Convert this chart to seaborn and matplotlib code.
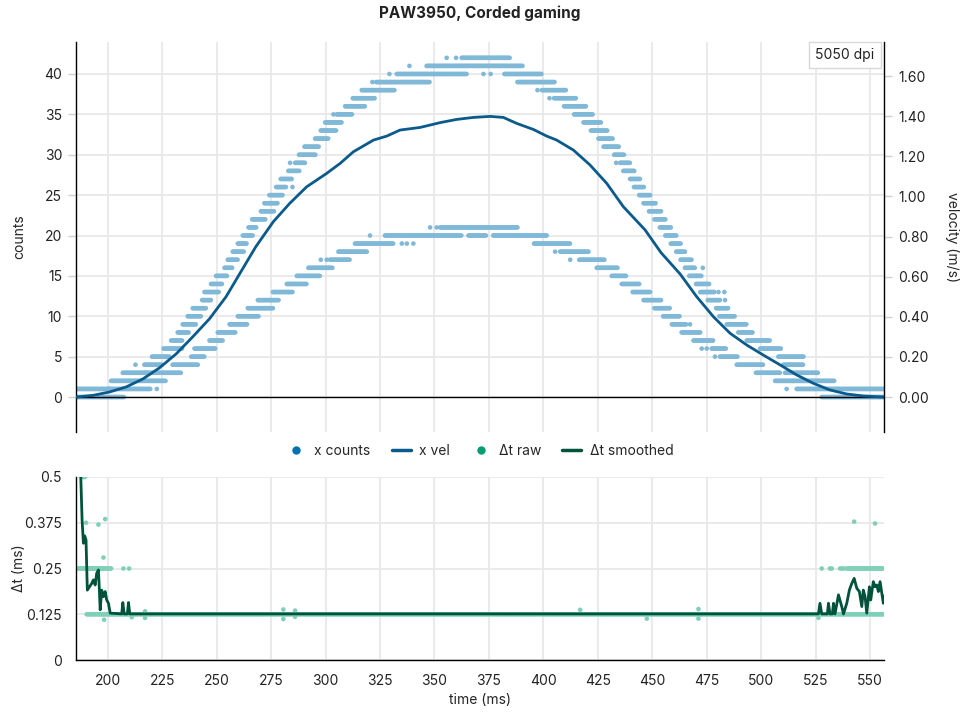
import numpy as np
import pandas as pd
import matplotlib
matplotlib.use("Agg")
import matplotlib.pyplot as plt
import seaborn as sns
from matplotlib.lines import Line2D
from matplotlib.ticker import FixedLocator

# ---------------- data ----------------
# x counts, upper band: runs of constant count (count, start ms, end ms)
upper_runs = [
    (1, 185.4, 201.0), (2, 201.5, 210.0), (3, 206.9, 217.0), (4, 216.8, 225.2),
    (5, 220.3, 228.3), (6, 225.6, 234.4), (7, 229.1, 234.4), (8, 232.1, 237.5),
    (9, 234.4, 240.5), (10, 236.7, 242.8), (11, 239.0, 245.1), (12, 243.3, 247.4),
    (13, 244.4, 251.3), (14, 247.4, 252.8), (15, 249.7, 255.1), (16, 253.6, 257.4),
    (17, 255.1, 259.7), (18, 257.4, 262.7), (19, 259.7, 264.0), (20, 262.0, 266.5),
    (21, 264.6, 268.5), (22, 266.3, 272.7), (23, 270.3, 276.5), (24, 271.9, 278.0),
    (25, 274.2, 280.6), (26, 277.3, 282.2), (27, 279.4, 284.5), (28, 282.9, 288.3),
    (29, 286.0, 290.6), (30, 287.8, 295.6), (31, 290.3, 297.2), (32, 295.2, 301.3),
    (33, 297.8, 304.8), (34, 299.8, 307.4), (35, 305.1, 312.5), (36, 309.0, 318.1),
    (37, 312.5, 322.7), (38, 316.6, 331.9), (39, 323.2, 347.7), (40, 332.7, 364.8),
    (41, 346.4, 390.5), (42, 362.5, 384.7), (40, 382.1, 399.3), (39, 388.1, 405.4),
    (38, 399.3, 410.4), (37, 404.9, 415.0), (36, 409.5, 419.9), (35, 414.1, 423.0),
    (34, 418.4, 426.5), (33, 421.8, 429.6), (32, 425.3, 431.8), (31, 427.6, 434.9),
    (30, 432.5, 437.1), (29, 435.2, 439.8), (28, 436.7, 442.1), (27, 439.8, 444.4),
    (26, 441.6, 446.5), (25, 444.0, 449.0), (24, 446.0, 451.5), (23, 448.5, 454.0),
    (22, 451.0, 456.0), (21, 453.5, 458.5), (20, 456.0, 461.0), (19, 458.5, 463.0),
    (18, 461.0, 465.1), (17, 463.0, 468.1), (16, 465.0, 469.6), (15, 467.0, 472.7),
    (14, 470.1, 476.2), (13, 472.0, 478.8), (12, 475.5, 481.1), (11, 479.3, 484.9),
    (10, 480.8, 488.0), (9, 484.2, 493.4), (8, 489.5, 496.4), (7, 493.4, 504.1),
    (6, 499.5, 509.4), (5, 507.9, 519.4), (4, 510.2, 519.4), (3, 511.0, 526.3),
    (2, 515.0, 533.9), (1, 516.3, 556.4), (0, 527.8, 556.4),
]
# x counts, lower band runs
lower_runs = [
    (0, 185.4, 207.6), (1, 200.0, 219.9), (2, 210.0, 226.8), (3, 217.0, 233.7),
    (4, 229.8, 241.3), (5, 238.3, 244.4), (6, 239.8, 249.7), (7, 246.7, 252.8),
    (8, 250.5, 258.9), (9, 255.9, 264.3), (10, 259.7, 269.6), (11, 264.3, 275.8),
    (12, 268.9, 278.8), (13, 275.8, 285.0), (14, 282.2, 291.3), (15, 286.8, 297.5),
    (16, 292.1, 303.3), (17, 302.0, 311.2), (18, 305.9, 318.9), (19, 313.5, 331.1),
    (20, 327.3, 362.5), (20, 365.6, 374.0), (20, 377.0, 401.5), (21, 352.6, 388.5),
    (19, 395.7, 412.6), (18, 407.7, 421.1), (17, 416.5, 428.3), (16, 424.5, 434.0),
    (15, 431.4, 438.3), (14, 436.0, 444.4), (13, 441.0, 449.0), (12, 446.0, 454.0),
    (11, 451.0, 458.0), (10, 455.0, 462.8), (9, 459.0, 465.8), (8, 463.5, 472.0),
    (7, 468.9, 478.1), (6, 477.3, 484.2), (5, 481.1, 489.5), (4, 488.8, 501.0),
    (3, 497.6, 508.7), (2, 506.4, 515.0),
]
# isolated count samples (time ms, count)
count_single_t = [212.7, 222.5, 284.8, 283.7, 303.6, 321.5, 329.3, 372.5, 375.8,
                  338.5, 355.6, 359.9, 397.3, 402.8, 433.4, 473.2, 480.4, 483.1,
                  483.4, 511.7, 297.8, 300.5, 335.0, 337.3, 340.3, 320.4, 348.0,
                  351.0, 405.4, 412.3, 467.3, 472.7, 475.0, 478.8]
count_single_v = [4, 1, 26, 29, 35, 39, 40, 40, 40,
                  41, 42, 42, 38, 37, 29, 16, 13, 13,
                  12, 1, 17, 17, 19, 19, 19, 20, 21,
                  21, 18, 17, 9, 6, 6, 5]

# x velocity (m/s)
vel_t = [185.4, 193.1, 200.8, 208.4, 216.1, 223.7, 231.4, 239.0, 246.7, 254.3,
         260.7, 268.0, 276.0, 283.5, 291.3, 300.5, 306.7, 312.8, 322.0, 328.1,
         334.2, 343.4, 352.6, 360.2, 367.9, 375.5, 381.6, 387.8, 395.4, 401.5,
         406.1, 413.8, 421.4, 429.1, 436.7, 446.7, 454.0, 462.8, 470.4, 478.1,
         485.7, 493.4, 501.0, 508.7, 516.3, 524.0, 531.6, 539.3, 546.9, 556.4]
vel_v = [0.0, 0.008, 0.025, 0.05, 0.09, 0.145, 0.215, 0.30, 0.39, 0.50,
         0.617, 0.75, 0.874, 0.965, 1.048, 1.115, 1.165, 1.223, 1.281, 1.301,
         1.331, 1.344, 1.368, 1.384, 1.394, 1.399, 1.394, 1.364, 1.334, 1.301,
         1.281, 1.231, 1.157, 1.065, 0.949, 0.833, 0.72, 0.613, 0.50, 0.40,
         0.318, 0.259, 0.209, 0.16, 0.11, 0.068, 0.035, 0.015, 0.005, 0.0]

# delta-t raw: runs (value ms, start ms, end ms) and single samples
dt_runs = [(0.125, 190.3, 556.4), (0.25, 186.5, 201.8), (0.25, 539.3, 556.1),
           (0.5, 188.0, 189.6)]
dt_single_t = [190.0, 195.7, 198.8, 198.0, 207.2, 209.8, 198.3, 211.0, 217.1, 217.1,
               280.6, 280.6, 286.0, 286.0, 416.9, 471.2, 471.2, 447.5, 526.3,
               542.7, 552.3, 527.8, 531.6, 532.4, 536.2, 537.0, 537.8]
dt_single_v = [0.375, 0.37, 0.385, 0.28, 0.25, 0.25, 0.11, 0.117, 0.133, 0.115,
               0.138, 0.112, 0.135, 0.118, 0.137, 0.139, 0.113, 0.113, 0.115,
               0.378, 0.373, 0.25, 0.25, 0.25, 0.25, 0.25, 0.25]

# delta-t smoothed
dts_t = [187.6, 188.2, 188.8, 189.4, 190.0, 190.6, 191.6, 192.6, 193.4, 194.2,
         194.9, 195.7, 196.2, 196.5, 197.2, 198.0, 198.8, 199.5, 200.3, 201.1,
         206.4, 206.9, 207.5, 209.0, 209.5, 210.1, 526.3, 527.0, 527.8, 530.4,
         530.9, 531.6, 532.7, 533.2, 533.9, 535.5, 537.0, 537.8, 539.3, 540.5,
         541.6, 542.7, 543.9, 545.1, 546.2, 546.9, 547.7, 548.5, 549.7, 550.3,
         551.5, 552.3, 553.1, 553.8, 554.6, 555.4, 556.1, 556.4]
dts_v = [0.499, 0.382, 0.319, 0.339, 0.328, 0.191, 0.2, 0.209, 0.219, 0.205,
         0.237, 0.246, 0.182, 0.137, 0.191, 0.173, 0.187, 0.164, 0.155, 0.128,
         0.126, 0.157, 0.126, 0.126, 0.157, 0.126, 0.126, 0.155, 0.126, 0.126,
         0.155, 0.126, 0.126, 0.155, 0.126, 0.178, 0.146, 0.126, 0.155, 0.191,
         0.209, 0.223, 0.196, 0.187, 0.146, 0.191, 0.173, 0.128, 0.2, 0.164,
         0.214, 0.2, 0.205, 0.187, 0.214, 0.182, 0.155, 0.175]

x_ticks = [200, 225, 250, 275, 300, 325, 350, 375, 400, 425, 450, 475, 500, 525, 550]
count_ticks = [0, 5, 10, 15, 20, 25, 30, 35, 40]
vel_ticks = [0.0, 0.2, 0.4, 0.6, 0.8, 1.0, 1.2, 1.4, 1.6]
dt_ticks = [0, 0.125, 0.25, 0.375, 0.5]
dt_tick_labels = ["0", "0.125", "0.25", "0.375", "0.5"]

# ---------------- build frames ----------------
SP = 0.5
def expand(runs):
    ts, vs = [], []
    for v, t0, t1 in runs:
        tt = np.arange(t0, t1 + 1e-9, SP)
        ts.extend(tt)
        vs.extend([v] * len(tt))
    return ts, vs

ut, uv = expand(upper_runs)
lt, lv = expand(lower_runs)
counts_df = pd.DataFrame({"t": ut + lt + count_single_t,
                          "c": uv + lv + count_single_v})
vel_df = pd.DataFrame({"t": vel_t, "v": vel_v})
rt, rv = expand(dt_runs)
dt_df = pd.DataFrame({"t": rt + dt_single_t, "dt": rv + dt_single_v})
dts_df = pd.DataFrame({"t": dts_t, "dt": dts_v})

# ---------------- style ----------------
sns.set_theme(style="white")
plt.rcParams["font.family"] = ["Inter", "DejaVu Sans"]
plt.rcParams["font.size"] = 10

BLUE = "#0072B2"
BLUE_L = "#80b8d8"
BLUE_D = "#0a5a8c"
GREEN = "#009E73"
GREEN_L = "#80cfb9"
GREEN_D = "#00533b"
GRID = "#e8e8e8"
TICK = "#d0d0d0"

fig = plt.figure(figsize=(9.6, 7.2), dpi=100)
ax1 = fig.add_axes([76 / 960, 1 - 432 / 720, 808 / 960, 390 / 720])
ax2 = fig.add_axes([76 / 960, 1 - 660 / 720, 808 / 960, 183 / 720])
ax1r = ax1.twinx()

XL = (185.4, 556.4)

# top panel
ax1.set_axisbelow(True)
ax1.grid(True, color=GRID, lw=1.3)
sns.scatterplot(data=counts_df, x="t", y="c", ax=ax1, color=BLUE_L,
                s=11, edgecolor="none", linewidth=0, legend=False, zorder=2)
ax1.axhline(0, color="black", lw=1.0, zorder=3)
sns.lineplot(data=vel_df, x="t", y="v", ax=ax1r, color=BLUE_D, lw=2.0,
             sort=False, estimator=None, legend=False)
ax1.set_xlim(*XL)
ax1.set_ylim(-4.33, 43.96)
ax1r.set_ylim(-0.1745, 1.770)
ax1.xaxis.set_major_locator(FixedLocator(x_ticks))
ax1.set_yticks(count_ticks)
ax1r.set_yticks(vel_ticks)
ax1r.set_yticklabels([f"{v:.2f}" for v in vel_ticks])
ax1.tick_params(axis="x", length=0, labelbottom=False)
ax1.tick_params(axis="y", length=6, width=1, color=TICK, pad=4, labelsize=10,
                labelcolor="#222222")
ax1r.tick_params(axis="y", length=6, width=1, color=TICK, pad=4, labelsize=10,
                 labelcolor="#222222")
ax1r.grid(False)
for s in ["top", "bottom", "right"]:
    ax1.spines[s].set_visible(False)
for s in ["top", "bottom", "left"]:
    ax1r.spines[s].set_visible(False)
ax1.spines["left"].set_color("black")
ax1.spines["left"].set_linewidth(1.0)
ax1r.spines["right"].set_color("black")
ax1r.spines["right"].set_linewidth(1.0)
ax1.set_xlabel("")
ax1.set_ylabel("counts", fontsize=10)
ax1.yaxis.set_label_coords(-0.062, 0.5)
ax1r.set_xlabel("")
ax1r.set_ylabel("velocity (m/s)", fontsize=10, rotation=270, va="bottom")
ax1r.yaxis.set_label_coords(1.075, 0.5)
ax1.text(0.988, 0.984, "5050 dpi", transform=ax1.transAxes, ha="right", va="top",
         fontsize=10, color="#222222", zorder=5,
         bbox=dict(boxstyle="square,pad=0.45", fc="white", ec="#d9d9d9", lw=1))

# bottom panel
ax2.set_axisbelow(True)
ax2.grid(True, color=GRID, lw=1.3)
sns.scatterplot(data=dt_df, x="t", y="dt", ax=ax2, color=GREEN_L,
                s=11, edgecolor="none", linewidth=0, legend=False, zorder=2)
sns.lineplot(data=dts_df, x="t", y="dt", ax=ax2, color=GREEN_D, lw=2.0,
             sort=False, estimator=None, legend=False, zorder=3)
ax2.set_xlim(*XL)
ax2.set_ylim(0, 0.5)
ax2.set_xticks(x_ticks)
ax2.set_yticks(dt_ticks)
ax2.set_yticklabels(dt_tick_labels)
ax2.tick_params(axis="both", length=6, width=1, color=TICK, pad=4, labelsize=10,
                labelcolor="#222222")
for s in ["top", "right"]:
    ax2.spines[s].set_visible(False)
ax2.spines["left"].set_color("black")
ax2.spines["bottom"].set_color("black")
ax2.spines["left"].set_linewidth(1.0)
ax2.spines["bottom"].set_linewidth(1.0)
ax2.set_xlabel("time (ms)", fontsize=10)
ax2.xaxis.set_label_coords(0.5, -0.18)
ax2.set_ylabel("Δt (ms)", fontsize=10)
ax2.yaxis.set_label_coords(-0.062, 0.5)

# legend
handles = [
    Line2D([], [], marker="o", ls="", color=BLUE, markersize=5),
    Line2D([], [], color=BLUE_D, lw=2.5),
    Line2D([], [], marker="o", ls="", color=GREEN, markersize=5),
    Line2D([], [], color=GREEN_D, lw=2.5),
]
labels = ["x counts", "x vel", "Δt raw", "Δt smoothed"]
fig.legend(handles, labels, loc="center", bbox_to_anchor=(0.5, 1 - 451 / 720),
           ncol=4, frameon=False, fontsize=10, handlelength=1.4,
           columnspacing=1.5, handletextpad=0.6)

fig.suptitle("PAW3950, Corded gaming", y=0.992, va="top", fontsize=11,
             fontweight="bold", color="#222222")

fig.savefig("out.png", dpi=100)
